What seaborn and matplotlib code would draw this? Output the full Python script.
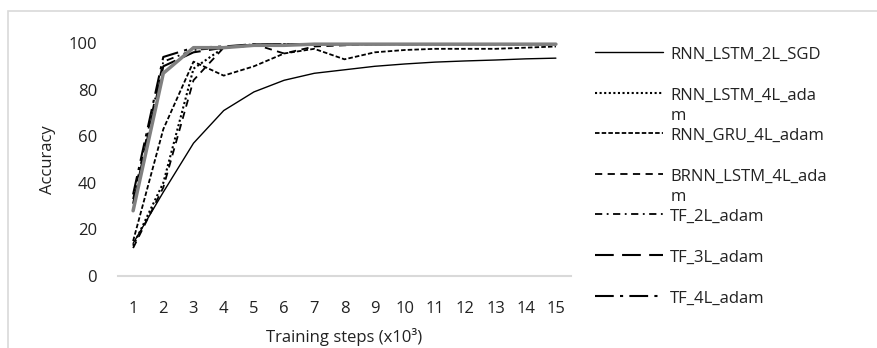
import matplotlib
matplotlib.use("Agg")
from matplotlib import pyplot as plt
from matplotlib.patches import Rectangle
from matplotlib.legend_handler import HandlerLine2D
import seaborn as sns
import pandas as pd
import numpy as np

steps = list(range(1, 16))

rnn_lstm_2l_sgd = [14, 36, 57, 71, 79, 84, 87, 88.5, 90, 91, 91.8, 92.3, 92.7, 93.2, 93.5]
rnn_lstm_4l_adam = [13, 40, 89, 98, 99, 99.5, 99.5, 99.5, 99.5, 99.5, 99.5, 99.5, 99.5, 99.5, 99.5]
rnn_gru_4l_adam = [15, 63, 92, 86, 90, 95.5, 97.5, 93, 96, 97, 97.5, 97.5, 97.5, 98, 98.5]
brnn_lstm_4l_adam = [12, 38, 84, 98, 99.5, 95.5, 98.5, 99, 99.5, 99.5, 99.5, 99.5, 99.5, 99.5, 99.5]
tf_2l_adam = [33, 92, 97, 98, 99.5, 99.5, 99.5, 99.5, 99.5, 99.5, 99.5, 99.5, 99.5, 99.5, 99.5]
tf_3l_adam = [31, 90, 96, 98, 99, 99.5, 99.5, 99.5, 99.5, 99.5, 99.5, 99.5, 99.5, 99.5, 99.5]
tf_4l_adam = [35, 94, 98, 98.5, 99.5, 99.5, 99.5, 99.5, 99.5, 99.5, 99.5, 99.5, 99.5, 99.5, 99.5]
extra_grey = [28, 87, 98, 98, 99, 99, 99.5, 99.5, 99.5, 99.5, 99.5, 99.5, 99.5, 99.5, 99.5]

# legend labels: every label takes two lines so rows are evenly spaced
series = {
    "RNN_LSTM_2L_SGD\n": rnn_lstm_2l_sgd,
    "RNN_LSTM_4L_ada\nm": rnn_lstm_4l_adam,
    "RNN_GRU_4L_adam\n": rnn_gru_4l_adam,
    "BRNN_LSTM_4L_ada\nm": brnn_lstm_4l_adam,
    "TF_2L_adam\n": tf_2l_adam,
    "TF_3L_adam\n": tf_3l_adam,
    "TF_4L_adam\n": tf_4l_adam,
}

line_styles = [
    dict(ls="-", lw=1.0),
    dict(ls=(0, (1, 1.2)), lw=1.5),
    dict(ls=(0, (2.5, 1.2)), lw=1.3),
    dict(ls=(0, (4, 3)), lw=1.3),
    dict(ls=(0, (4, 2.5, 1, 2.5)), lw=1.3),
    dict(ls=(0, (9, 4)), lw=1.5),
    dict(ls=(0, (9, 3, 1.5, 3)), lw=1.5),
]


class FirstLineHandler(HandlerLine2D):
    # put the legend line next to the first text line, not the middle
    def create_artists(self, *args, **kwargs):
        arts = super().create_artists(*args, **kwargs)
        for a in arts:
            a.set_ydata(np.asarray(a.get_ydata()) + 9.5)
        return arts


sns.set_theme(style="white")
plt.rcParams["font.family"] = ["Open Sans", "DejaVu Sans"]

fig = plt.figure(figsize=(8.78, 3.48), dpi=100)
ax = fig.add_axes([118 / 878, 1 - 276 / 348, (571 - 118) / 878, (276 - 43) / 348])

fig.patches.append(Rectangle((8 / 878, -0.2), 1.2, 1.2 - 11 / 348, transform=fig.transFigure,
                             fill=False, edgecolor="#d9d9d9", lw=1.2))

for (name, vals), st in zip(series.items(), line_styles):
    df = pd.DataFrame({"step": steps, "value": vals})
    sns.lineplot(data=df, x="step", y="value", ax=ax, color="black", lw=st["lw"],
                 linestyle=st["ls"], label=name, clip_on=False)

# grey series (not in legend), drawn on top
df = pd.DataFrame({"step": steps, "value": extra_grey})
sns.lineplot(data=df, x="step", y="value", ax=ax, color="#808080", lw=2.5, clip_on=False,
             zorder=3)

ax.set_xlim(0.5, 15.5)
ax.set_ylim(0, 100)
ax.set_xticks(steps)
ax.set_yticks(range(0, 101, 20))
for s in ["top", "right", "left"]:
    ax.spines[s].set_visible(False)
ax.spines["bottom"].set_color("#d9d9d9")
ax.spines["bottom"].set_linewidth(1.5)
ax.tick_params(axis="both", length=0, labelsize=12, colors="#222222")
ax.tick_params(axis="x", pad=18)
ax.tick_params(axis="y", pad=15)
ax.set_xlabel("Training steps (x10³)", fontsize=12, color="#222222", labelpad=8)
ax.set_ylabel("Accuracy", fontsize=12, color="#222222", labelpad=9)

ax.get_legend().remove()
handles, labels = ax.get_legend_handles_labels()
lsp = 1.38
leg = fig.legend(handles, labels, loc="upper left", bbox_to_anchor=(595 / 878, 1 - 47 / 348),
                 frameon=False, fontsize=12, handlelength=4.07, handletextpad=0.45,
                 labelspacing=0.24, borderpad=0, borderaxespad=0,
                 handler_map={h: FirstLineHandler() for h in handles})
for t in leg.get_texts():
    t.set_linespacing(lsp)
    t.set_color("#222222")

fig.savefig("out.png", dpi=100)
